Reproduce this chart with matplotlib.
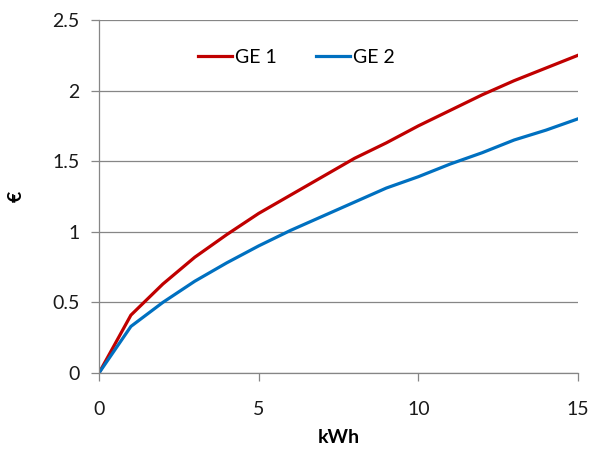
import matplotlib
matplotlib.use("Agg")
import matplotlib.pyplot as plt
from matplotlib.ticker import FuncFormatter

kwh = [0, 1, 2, 3, 4, 5, 6, 7, 8, 9, 10, 11, 12, 13, 14, 15]
ge1 = [0, 0.41, 0.63, 0.82, 0.98, 1.13, 1.26, 1.39, 1.52, 1.63, 1.75, 1.86, 1.97, 2.07, 2.16, 2.25]
ge2 = [0, 0.33, 0.50, 0.65, 0.78, 0.90, 1.01, 1.11, 1.21, 1.31, 1.39, 1.48, 1.56, 1.65, 1.72, 1.80]

plt.rcParams['font.family'] = ['Lato', 'DejaVu Sans']

fig = plt.figure(figsize=(6.01, 4.5), dpi=100)
ax = fig.add_axes([0.1647, 0.1711, 0.797, 0.7845])

grau = '#868686'
ax.plot(kwh, ge1, color='#C00000', lw=2.3, label='GE 1', solid_joinstyle='miter')
ax.plot(kwh, ge2, color='#0070C0', lw=2.3, label='GE 2', solid_joinstyle='miter')

ax.set_xlim(0, 15)
ax.set_ylim(0, 2.5)
ax.set_xticks([0, 5, 10, 15])
ax.set_yticks([0, 0.5, 1, 1.5, 2, 2.5])
ax.yaxis.set_major_formatter(FuncFormatter(lambda v, p: f'{v:g}'))

ax.grid(axis='y', color=grau, lw=0.9)
ax.set_axisbelow(True)
for s in ['top', 'right']:
    ax.spines[s].set_visible(False)
for s in ['left', 'bottom']:
    ax.spines[s].set_color(grau)
    ax.spines[s].set_linewidth(0.9)
ax.tick_params(axis='both', colors=grau, length=6, width=0.9, labelsize=14, labelcolor='#1a1a1a')
ax.tick_params(axis='x', pad=14)
ax.tick_params(axis='y', pad=8)

ax.set_xlabel('kWh', fontsize=14, fontweight='bold', labelpad=8)
ax.set_ylabel('€', fontsize=14, fontweight='bold', labelpad=20)

ax.legend(loc='center', bbox_to_anchor=(0.412, 0.895), ncol=2, frameon=False,
          fontsize=14, handlelength=1.75, handletextpad=0.15, columnspacing=2.0)

fig.savefig('out.png', dpi=100)
